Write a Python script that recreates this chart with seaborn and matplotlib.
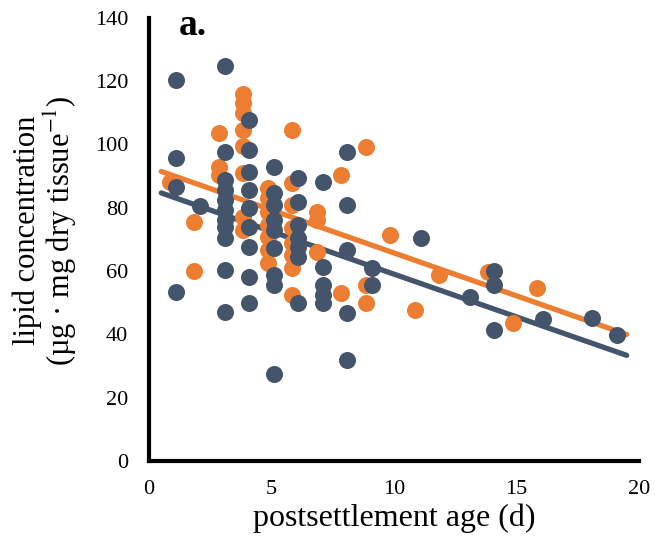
import numpy as np
import pandas as pd
import seaborn as sns
import matplotlib.pyplot as plt

# orange series: postsettlement age (d) and lipid concentration
orange_age = [1, 2, 2,
              3, 3, 3,
              4, 4, 4, 4, 4, 4, 4, 4,
              5, 5, 5, 5, 5, 5, 5,
              6, 6, 6, 6, 6, 6, 6, 6,
              7, 7, 7,
              8, 8,
              9, 9, 9,
              10, 11, 12, 14, 15, 16]
orange_lipid = [88, 75.5, 60,
                103.6, 93, 90.4,
                116, 113, 110, 104.6, 99.5, 91, 77, 73,
                86.3, 83, 78.7, 74.6, 70.8, 66.7, 62.6,
                104.5, 87.9, 81, 73.6, 68.9, 65.1, 61, 52.5,
                78.7, 76.2, 66,
                90.4, 53,
                99.2, 55.6, 50,
                71.4, 47.7, 58.8, 59.7, 43.6, 54.7]

# dark series
navy_age = [1, 1, 1, 1,
            2,
            3, 3, 3, 3, 3, 3, 3, 3, 3, 3, 3,
            4, 4, 4, 4, 4, 4, 4, 4, 4,
            5, 5, 5, 5, 5, 5, 5, 5, 5,
            6, 6, 6, 6, 6, 6, 6,
            7, 7, 7, 7, 7,
            8, 8, 8, 8, 8,
            9, 9,
            11, 13, 14, 14, 14, 16, 18, 19]
navy_lipid = [120.4, 95.8, 86.6, 53.4,
              80.4,
              124.8, 97.6, 88.8, 85.6, 82.5, 79.3, 76.2, 74, 70.5, 60.4, 47,
              107.8, 98.3, 91.3, 85.6, 80, 74, 67.6, 58.2, 50,
              93, 84.7, 81, 76.2, 73, 67.3, 58.8, 55.6, 27.5,
              89.4, 81.9, 74.6, 70.5, 67.6, 64.5, 50,
              88.2, 61.3, 55.6, 52.5, 50,
              97.6, 81, 66.7, 46.8, 31.9,
              61, 55.6,
              70.5, 51.8, 60, 55.6, 41.4, 44.9, 45.2, 39.8]

# linear trendlines as shown in the figure (intercept, slope) and their extent
orange_trend = (92.8, -2.71)
navy_trend = (86.0, -2.70)
trend_age = [0.5, 19.5]

orange_col = "#ED7D31"
navy_col = "#44546A"

# the two series are drawn slightly apart on the age axis in the original
df_o = pd.DataFrame({"age": np.array(orange_age) - 0.15, "lipid": orange_lipid})
df_n = pd.DataFrame({"age": np.array(navy_age) + 0.1, "lipid": navy_lipid})
tx = np.array(trend_age)
df_to = pd.DataFrame({"age": tx, "lipid": orange_trend[0] + orange_trend[1] * tx})
df_tn = pd.DataFrame({"age": tx, "lipid": navy_trend[0] + navy_trend[1] * tx})

sns.set_style("white")
plt.rcParams["font.family"] = ["Liberation Serif", "DejaVu Serif"]
plt.rcParams["mathtext.fontset"] = "stix"
plt.rcParams["text.color"] = "black"
plt.rcParams["axes.labelcolor"] = "black"
plt.rcParams["xtick.color"] = "black"
plt.rcParams["ytick.color"] = "black"

fig = plt.figure(figsize=(6.55, 5.54), dpi=100)
ax = fig.add_axes([0.2275, 0.168, 0.748, 0.80])

line_kws = dict(lw=3.8, solid_capstyle="round", zorder=1)
sns.lineplot(data=df_to, x="age", y="lipid", color=orange_col, ax=ax, **line_kws)
sns.lineplot(data=df_tn, x="age", y="lipid", color=navy_col, ax=ax, **line_kws)

sns.scatterplot(data=df_o, x="age", y="lipid", color=orange_col, s=150,
                linewidth=0, alpha=1, zorder=2, ax=ax)
sns.scatterplot(data=df_n, x="age", y="lipid", color=navy_col, s=150,
                linewidth=0, alpha=1, zorder=3, ax=ax)

ax.set_xlim(0, 20)
ax.set_ylim(0, 140)
ax.set_xticks(range(0, 21, 5))
ax.set_yticks(range(0, 141, 20))
ax.tick_params(axis="y", length=0, labelsize=16, pad=15)
ax.tick_params(axis="x", length=0, labelsize=16, pad=14)
sns.despine(ax=ax)
for sp in ["left", "bottom"]:
    ax.spines[sp].set_linewidth(3)
    ax.spines[sp].set_color("black")

ax.set_xlabel("postsettlement age (d)", fontsize=23)
ax.set_ylabel("lipid concentration\n(µg · mg dry tissue$^{-1}$)", fontsize=22,
              linespacing=1.0)
ax.xaxis.set_label_coords(0.5, -0.095)
ax.yaxis.set_label_coords(-0.143, 0.52)
ax.text(1.2, 134.5, "a.", fontsize=27, fontweight="bold", va="baseline", ha="left")

fig.savefig("out.png", dpi=100)
